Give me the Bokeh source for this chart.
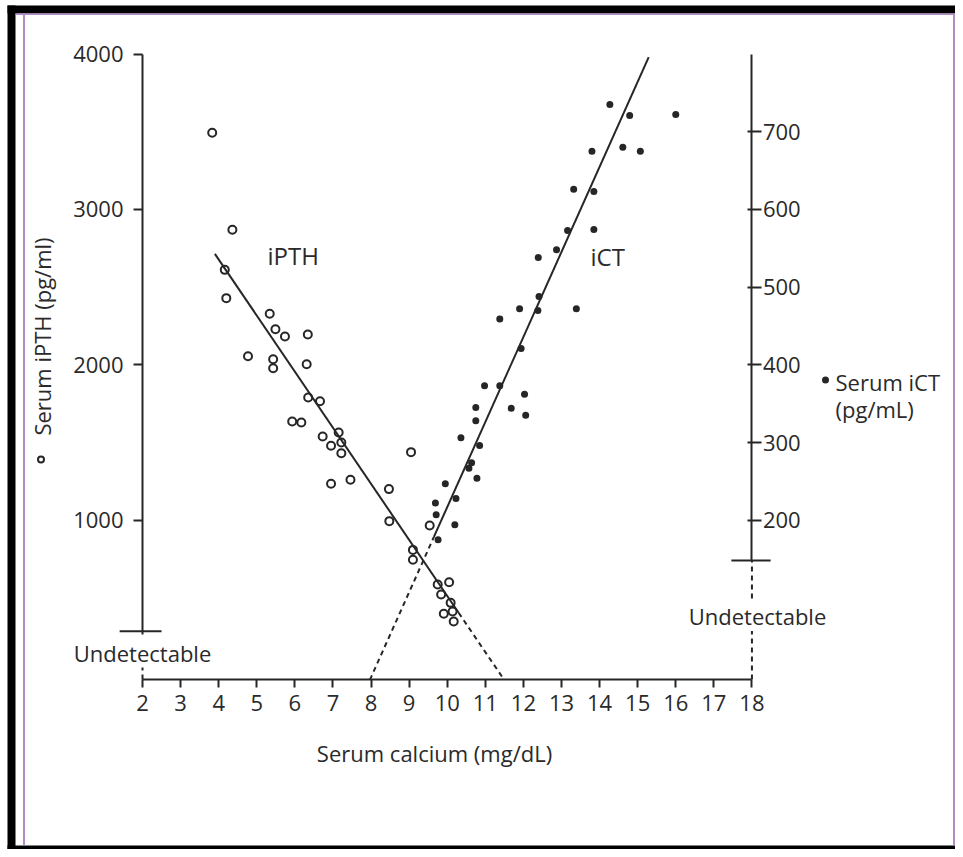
import math
from bokeh.plotting import figure
from bokeh.models import Range1d, LinearAxis, FixedTicker, Label, BoxAnnotation
from bokeh.core.properties import value
from bokeh.embed import file_html
from bokeh.resources import INLINE

# ---------------- data ----------------
ipth_calcium = [3.83, 4.36, 4.16, 4.20, 5.34, 5.49, 5.74, 6.34, 4.77, 5.43,
                5.43, 6.31, 6.35, 6.66, 5.93, 6.17, 6.73, 7.15, 6.95, 7.22,
                7.22, 9.05, 6.95, 7.46, 8.47, 8.48, 9.54, 9.10, 9.10, 9.75,
                10.05, 9.84, 10.09, 9.91, 10.14, 10.17]
ipth_values = [3493, 2869, 2611, 2429, 2328, 2229, 2182, 2195, 2055, 2036,
               1978, 2004, 1790, 1766, 1635, 1629, 1539, 1564, 1479, 1500,
               1431, 1438, 1234, 1260, 1200, 994, 966, 809, 745, 586,
               601, 522, 468, 398, 412, 348]

ict_calcium = [14.27, 14.79, 16.00, 13.80, 14.61, 15.07, 13.32, 13.85, 13.16, 13.85,
               12.87, 12.39, 12.41, 11.90, 12.38, 13.39, 11.38, 11.94, 10.98, 11.38,
               12.03, 11.68, 12.06, 10.75, 10.75, 10.36, 10.85, 10.64, 10.57, 10.78,
               9.95, 10.23, 9.69, 9.71, 10.20, 9.76]
ict_values = [735, 721, 722, 675, 680, 675, 626, 623, 573, 574,
              548, 538, 488, 472, 470, 472, 459, 421, 373, 373,
              362, 344, 335, 345, 328, 306, 296, 274, 267, 254,
              247, 228, 222, 207, 194, 175]

x_ticks = list(range(2, 19))
ipth_ticks = [1000, 2000, 3000, 4000]
ict_ticks = [200, 300, 400, 500, 600, 700]

# regression lines: value = intercept + slope * calcium
ipth_fit = {"slope": -360.9, "intercept": 4121.5}
ipth_fit_solid = [3.9, 10.3]
ipth_fit_dashed = [10.3, 11.49]
ict_fit = {"slope": 109.5, "intercept": -878.2}
ict_fit_dashed = [7.97, 9.65]
ict_fit_solid = [9.65, 15.29]

ipth_undetectable = 285
ict_undetectable = 148
ipth_axis_top = 4000
ict_axis_top = 800
ict_scale = 5.0  # iPTH units per iCT unit on the page
baseline_ipth = -25

series_labels = ["iPTH", "iCT"]

# ---------------- layout ----------------
W, H = 955, 849
PX_CA = 38.09          # px per mg/dL
PX_PTH = 0.1554        # px per pg/mL iPTH
X0 = 2 - 142 / PX_CA
X1 = X0 + W / PX_CA
Y1 = 675.1 / PX_PTH
Y0 = Y1 - H / PX_PTH


def cx(px):
    return X0 + px / PX_CA


def vy(py):
    return Y1 - py / PX_PTH


INK = "#262626"
TXT = "#2a2a2a"
FONT = "Open Sans"

p = figure(width=W, height=H, x_range=Range1d(X0, X1), y_range=Range1d(Y0, Y1),
           x_axis_type=None, y_axis_type=None, toolbar_location=None,
           output_backend="svg", min_border=0)
p.outline_line_color = None
p.background_fill_color = "white"
p.border_fill_color = "white"
p.extra_y_ranges = {"ict": Range1d(Y0 / ict_scale, Y1 / ict_scale)}


def style_axis(ax, size="22px"):
    ax.axis_line_color = INK
    ax.axis_line_width = 2
    ax.major_tick_line_color = INK
    ax.major_tick_line_width = 2
    ax.minor_tick_line_color = None
    ax.major_label_text_font = FONT
    ax.major_label_text_font_size = size
    ax.major_label_text_color = TXT


# x axis
xa = LinearAxis(fixed_location=baseline_ipth, bounds=(x_ticks[0], x_ticks[-1]),
                ticker=FixedTicker(ticks=x_ticks))
style_axis(xa)
xa.major_tick_out = 8
xa.major_tick_in = 0
xa.major_label_standoff = 8
p.add_layout(xa, "below")

# left axis (iPTH)
ya = LinearAxis(fixed_location=x_ticks[0], bounds=(ipth_undetectable, ipth_axis_top),
                ticker=FixedTicker(ticks=ipth_ticks))
style_axis(ya)
ya.major_tick_out = 9
ya.major_tick_in = 0
ya.major_label_standoff = 10
p.add_layout(ya, "left")

# right axis (iCT)
ra = LinearAxis(y_range_name="ict", fixed_location=x_ticks[-1],
                bounds=(ict_undetectable, ict_axis_top),
                ticker=FixedTicker(ticks=ict_ticks))
style_axis(ra)
ra.major_tick_out = 10
ra.major_tick_in = 4
ra.major_label_standoff = 1
p.add_layout(ra, "right")

# dashed continuations of axes below 'Undetectable'
p.segment(x0=[x_ticks[0]], y0=[baseline_ipth], x1=[x_ticks[0]], y1=[ipth_undetectable],
          line_color=INK, line_width=2, line_dash="5 4")
p.segment(x0=[x_ticks[-1]], y0=[baseline_ipth / ict_scale], x1=[x_ticks[-1]],
          y1=[ict_undetectable], line_color=INK, line_width=2, line_dash="5 4",
          y_range_name="ict")
# 'Undetectable' cross-ticks
p.segment(x0=[x_ticks[0] - 0.6], y0=[ipth_undetectable], x1=[x_ticks[0] + 0.5],
          y1=[ipth_undetectable], line_color=INK, line_width=2)
p.segment(x0=[x_ticks[-1] - 0.54], y0=[ict_undetectable], x1=[x_ticks[-1] + 0.49],
          y1=[ict_undetectable], line_color=INK, line_width=2, y_range_name="ict")

# regression lines
def fit_vals(fit, xs):
    return [fit["intercept"] + fit["slope"] * x for x in xs]

p.line(ipth_fit_solid, fit_vals(ipth_fit, ipth_fit_solid), line_color=INK, line_width=2)
p.line(ipth_fit_dashed, fit_vals(ipth_fit, ipth_fit_dashed), line_color=INK, line_width=2,
       line_dash="5 4")
p.line(ict_fit_solid, fit_vals(ict_fit, ict_fit_solid), line_color=INK, line_width=2,
       y_range_name="ict")
p.line(ict_fit_dashed, fit_vals(ict_fit, ict_fit_dashed), line_color=INK, line_width=2,
       line_dash="5 4", y_range_name="ict")

# points
p.scatter(ipth_calcium, ipth_values, marker="circle", size=8, fill_color=None,
          line_color=INK, line_width=2)
p.scatter(ict_calcium, ict_values, marker="circle", size=7, fill_color=INK,
          line_color=None, y_range_name="ict")

# series labels
p.text(x=[cx(267), cx(590)], y=[vy(255), vy(256)], text=series_labels,
       text_font=value(FONT), text_font_size=value("24px"), text_color=TXT,
       text_align="left", text_baseline="middle")

# x axis title
p.text(x=[cx(434)], y=[vy(752)], text=["Serum calcium (mg/dL)"],
       text_font=value(FONT), text_font_size=value("22px"), text_color=TXT,
       text_align="center", text_baseline="middle")

# left axis title (rotated) with open-circle symbol
p.text(x=[cx(41)], y=[vy(336)], text=["Serum iPTH (pg/ml)"], angle=math.pi / 2,
       text_font=value(FONT), text_font_size=value("22px"), text_color=TXT,
       text_align="center", text_baseline="middle")
p.scatter([cx(40.5)], [vy(459)], marker="circle", size=6, fill_color=None,
          line_color=INK, line_width=2)

# right axis legend
p.scatter([cx(825)], [vy(379.5)], marker="circle", size=7, fill_color=INK, line_color=None)
p.text(x=[cx(835), cx(835)], y=[vy(381.5), vy(408)], text=["Serum iCT", "(pg/mL)"],
       text_font=value(FONT), text_font_size=value("22px"), text_color=TXT,
       text_align="left", text_baseline="middle")

# 'Undetectable' labels
p.add_layout(Label(x=x_ticks[0], y=vy(652), text="Undetectable", text_align="center",
                   text_baseline="middle", text_font=FONT, text_font_size="22px",
                   text_color=TXT, background_fill_color="white"))
p.add_layout(Label(x=cx(757), y=vy(615.5), text="Undetectable", text_align="center",
                   text_baseline="middle", text_font=FONT, text_font_size="22px",
                   text_color=TXT, background_fill_color="white"))

# page frame decoration
PURPLE = "#b08cc2"
p.add_layout(BoxAnnotation(left=cx(7), right=cx(15), bottom=Y0, top=vy(5),
                           fill_color="black", fill_alpha=1, line_color=None))
p.add_layout(BoxAnnotation(left=cx(7), right=X1, bottom=vy(13), top=vy(5),
                           fill_color="black", fill_alpha=1, line_color=None))
p.add_layout(BoxAnnotation(left=cx(7), right=X1, bottom=Y0, top=vy(845),
                           fill_color="black", fill_alpha=1, line_color=None))
p.add_layout(BoxAnnotation(left=cx(22.5), right=cx(24.5), bottom=vy(845), top=vy(13),
                           fill_color=PURPLE, fill_alpha=1, line_color=None))
p.add_layout(BoxAnnotation(left=cx(952.5), right=cx(954.5), bottom=vy(845), top=vy(13),
                           fill_color=PURPLE, fill_alpha=1, line_color=None))
p.add_layout(BoxAnnotation(left=cx(15), right=cx(954.5), bottom=vy(14.5), top=vy(13),
                           fill_color=PURPLE, fill_alpha=1, line_color=None))

open("out.html", "w").write(file_html(p, INLINE))
